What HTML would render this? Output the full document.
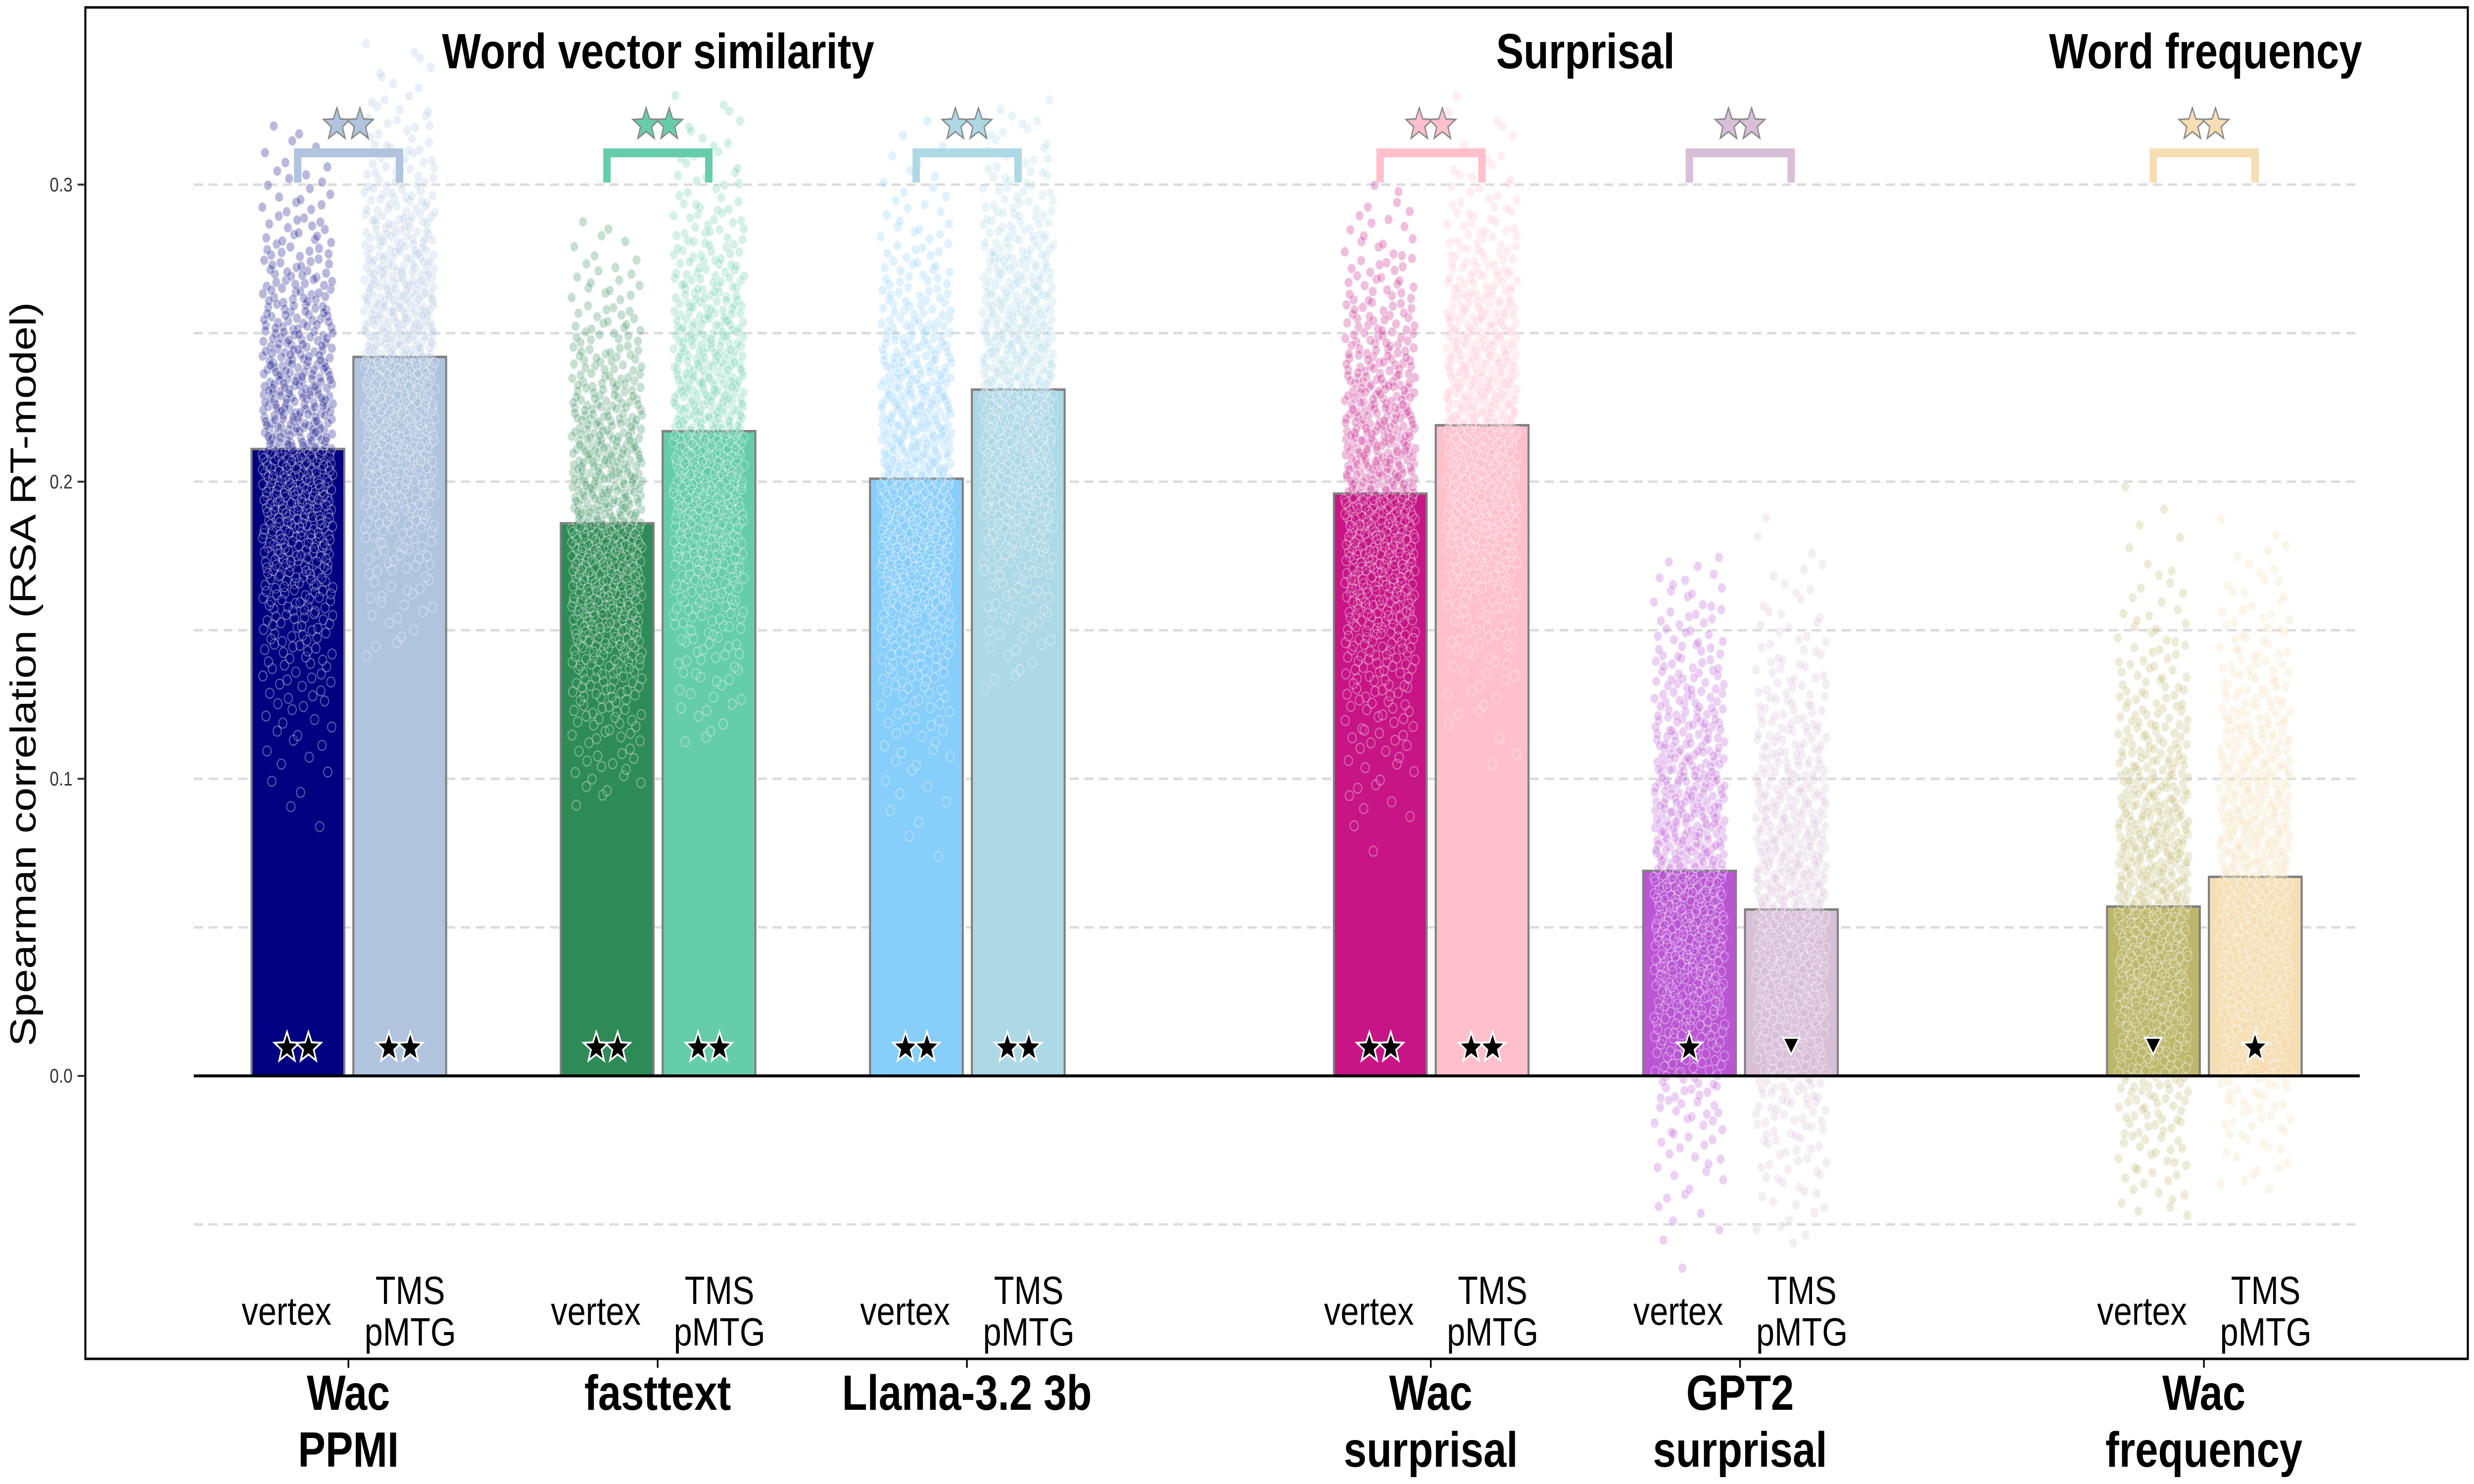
<!DOCTYPE html>
<html><head><meta charset="utf-8">
<style>
html,body{margin:0;padding:0;background:#fff;width:100%;height:100%;overflow:hidden;}
svg{display:block;font-family:"Liberation Sans",sans-serif;width:100vw;height:100vh;}
</style></head>
<body>
<svg id="chart" viewBox="0 0 6000 3000" preserveAspectRatio="none" xmlns="http://www.w3.org/2000/svg">
<rect x="0" y="0" width="6000" height="3000" fill="#fff"/>
<g id="grid"></g>
<g id="bars"></g>
<g id="points"></g>
<g id="marks"></g>
<g id="axes"></g>
<text x="57" y="1363" transform="rotate(-90 57 1363)" text-anchor="middle" dominant-baseline="central" font-size="88" fill="#000">Spearman correlation (RSA RT-model)</text>
<text x="1596" y="138" text-anchor="middle" font-size="100" font-weight="bold">Word vector similarity</text>
<text x="3845" y="138" text-anchor="middle" font-size="100" font-weight="bold">Surprisal</text>
<text x="5349" y="138" text-anchor="middle" font-size="100" font-weight="bold">Word frequency</text>
</svg>
<script>
const groups = ["Wac|PPMI","fasttext","Llama-3.2 3b","Wac|surprisal","GPT2|surprisal","Wac|frequency"];
const groupSlots = [0,1,2,3.5,4.5,6];
const vertexValues = [0.211,0.186,0.201,0.196,0.069,0.057];
const tmsValues = [0.242,0.217,0.231,0.219,0.056,0.067];
const vertexSpread = [0.045,0.042,0.045,0.045,0.050,0.050];
const tmsSpread = [0.042,0.045,0.042,0.042,0.050,0.048];
const vertexRange = [[0.04,0.32],[0.09,0.29],[0.06,0.33],[0.07,0.30],[-0.065,0.175],[-0.05,0.22]];
const tmsRange = [[0.14,0.35],[0.11,0.335],[0.13,0.33],[0.10,0.33],[-0.06,0.19],[-0.04,0.19]];
const vertexSig = ["**","**","**","**","*","v"];
const tmsSig = ["**","**","**","**","v","*"];
const vertexColors = ["#000080","#2e8b57","#87cefa","#c71585","#ba55d3","#bdb76b"];
const tmsColors = ["#b0c4de","#66cdaa","#add8e6","#ffc0cb","#d8bfd8","#f5deb3"];
const yTicks = [0.0,0.1,0.2,0.3];
const yTickLabels = ["0.0","0.1","0.2","0.3"];
const gridValues = [-0.05,0,0.05,0.1,0.15,0.2,0.25,0.3];

const NS="http://www.w3.org/2000/svg";
function y(v){return 2175 - v*6006;}
function xg(i){return 845 + groupSlots[i]*750;}
function mk(tag,attrs,parent){const e=document.createElementNS(NS,tag);for(const k in attrs)e.setAttribute(k,attrs[k]);parent.appendChild(e);return e;}
const G=id=>document.getElementById(id);

gridValues.forEach(v=>{
  if(v===0)return;
  const l=mk('line',{x1:470,x2:5723,y1:y(v),y2:y(v),stroke:'#dcdcdc','stroke-width':5,'stroke-dasharray':'22 14'},G('grid'));
  
  
});

function halton(i,b){let f=1,r=0;while(i>0){f/=b;r+=f*(i%b);i=Math.floor(i/b);}return r;}
function invnorm(p){const a=[-39.696830,220.946098,-275.928510,138.357751,-30.664798,2.506628];const b=[-54.476098,161.585836,-155.698979,66.801311,-13.280681];const c=[-0.007784894,-0.32239645,-2.4007583,-2.5497325,4.3746641,2.938164];const d=[0.0077846957,0.32246712,2.445134,3.7544087];const pl=0.02425;let q,r;
 if(p<pl){q=Math.sqrt(-2*Math.log(p));return(((((c[0]*q+c[1])*q+c[2])*q+c[3])*q+c[4])*q+c[5])/((((d[0]*q+d[1])*q+d[2])*q+d[3])*q+1);}
 if(p>1-pl){q=Math.sqrt(-2*Math.log(1-p));return-(((((c[0]*q+c[1])*q+c[2])*q+c[3])*q+c[4])*q+c[5])/((((d[0]*q+d[1])*q+d[2])*q+d[3])*q+1);}
 q=p-0.5;r=q*q;return(((((a[0]*r+a[1])*r+a[2])*r+a[3])*r+a[4])*r+a[5])*q/(((((b[0]*r+b[1])*r+b[2])*r+b[3])*r+b[4])*r+1);}

function starPts(cx,cy,R){const r=R*0.42;let p=[];for(let k=0;k<10;k++){const a=-Math.PI/2+k*Math.PI/5;const rr=k%2?r:R;p.push((cx+rr*Math.cos(a)).toFixed(1)+','+(cy+rr*Math.sin(a)).toFixed(1));}return p.join(' ');}

function drawSig(code,cx,cy,parent){
  if(code==='v'){
    const t=mk('polygon',{points:`${cx-20},${cy-16} ${cx+20},${cy-16} ${cx},${cy+18}`,fill:'#000',stroke:'#fff','stroke-width':4},parent);
    
    
    return;
  }
  const n=code.length;
  for(let k=0;k<n;k++){
    const sx=cx+(k-(n-1)/2)*52;
    const s=mk('polygon',{points:starPts(sx,cy+4,32),fill:'#000',stroke:'#fff','stroke-width':4},parent);
    
    
  }
}

groups.forEach((g,i)=>{
  const c=xg(i);
  const specs=[
    {cx:c-123,v:vertexValues[i],col:vertexColors[i],sd:vertexSpread[i],rg:vertexRange[i],sig:vertexSig[i],nm:'vertex'},
    {cx:c+124,v:tmsValues[i],col:tmsColors[i],sd:tmsSpread[i],rg:tmsRange[i],sig:tmsSig[i],nm:'tms'}];
  specs.forEach((s,j)=>{
    const b=mk('rect',{x:s.cx-112,y:y(s.v),width:225,height:y(0)-y(s.v),fill:s.col,stroke:'#808080','stroke-width':5},G('bars'));
    
    
    const pg=mk('g',{},G('points'));
    
    
    const N=650;
    for(let k=1;k<=N;k++){
      const u=halton(k+i*37+j*1000,3)*0.998+0.001;
      const v=s.v+s.sd*invnorm(u);
      if(v<s.rg[0]||v>s.rg[1])continue;
      const px=s.cx+(halton(k+i*37+j*1000,2)-0.5)*172;
      mk('circle',{cx:px.toFixed(1),cy:y(v).toFixed(1),r:10,fill:s.col,'fill-opacity':0.28,stroke:'#fff','stroke-opacity':0.35,'stroke-width':2.5},pg);
    }
    drawSig(s.sig,s.cx,2114,G('marks'));
    const lab=mk('text',{x:c+(j?150:-150),'text-anchor':'middle','font-size':80},G('axes'));
    
    
    if(j===0){lab.setAttribute('y',2678);lab.textContent='vertex';}
    else{const t1=mk('tspan',{x:c+150,y:2636},lab);t1.textContent='TMS';const t2=mk('tspan',{x:c+150,y:2720},lab);t2.textContent='pMTG';}
  });
  const bx1=c-123,bx2=c+124;
  const br=mk('path',{d:`M${bx1},369 L${bx1},309 L${bx2},309 L${bx2},369`,fill:'none',stroke:tmsColors[i],'stroke-width':18},G('marks'));
  
  
  for(let k=0;k<2;k++){
    const st=mk('polygon',{points:starPts(c-28+k*56,252,34),fill:tmsColors[i],stroke:'#888','stroke-width':3},G('marks'));
    
    
  }
  const parts=g.split('|');
  const gl=mk('text',{x:c,'text-anchor':'middle','font-size':100,'font-weight':'bold'},G('axes'));
  
  
  parts.forEach((p,k)=>{const t=mk('tspan',{x:c,y:2850+k*115},gl);t.textContent=p;});
  const tk=mk('line',{x1:c,x2:c,y1:2747,y2:2765,stroke:'#000','stroke-width':4},G('axes'));
  
  
});

const z=mk('line',{x1:470,x2:5723,y1:y(0),y2:y(0),stroke:'#000','stroke-width':6},G('axes'));


const pb=mk('rect',{x:207,y:15,width:5778,height:2732,fill:'none',stroke:'#000','stroke-width':5},G('axes'));


yTicks.forEach((v,k)=>{
  const t=mk('line',{x1:188,x2:207,y1:y(v),y2:y(v),stroke:'#333','stroke-width':4},G('axes'));
  
  
  const l=mk('text',{x:176,y:y(v),'text-anchor':'end','dominant-baseline':'central','font-size':40,fill:'#333'},G('axes'));
  
  
  l.textContent=yTickLabels[k];
});
</script>
</body></html>
